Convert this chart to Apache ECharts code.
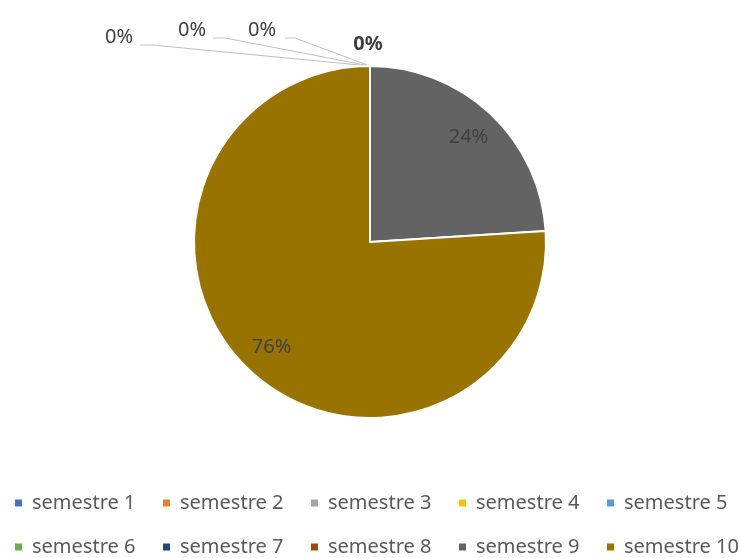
<!DOCTYPE html>
<html>
<head>
<meta charset="utf-8">
<script src="https://cdn.jsdelivr.net/npm/echarts@6/dist/echarts.min.js"></script>
<style>
  html, body { margin: 0; padding: 0; background: #fff; }
  #chart { width: 741px; height: 558px; }
</style>
</head>
<body>
<div id="chart"></div>
<script>
// Share of students per semester
const semesters = ['semestre 1', 'semestre 2', 'semestre 3', 'semestre 4', 'semestre 5',
                   'semestre 6', 'semestre 7', 'semestre 8', 'semestre 9', 'semestre 10'];
const shares = [0, 0, 0, 0, 0, 0, 0, 0, 24, 76];
const colors = ['#4472C4', '#ED7D31', '#A5A5A5', '#FFC000', '#5B9BD5',
                '#70AD47', '#264478', '#9E480E', '#636363', '#997300'];

const FONT = 'Noto Sans';
const CX = 370, CY = 242, R = 176;

// Where the labels of the empty slices sit (centre of text, end of leader line).
// Slices 4-8 share one stacked label right above the pie.
const zeroLabelSpots = [
  { x: 119, y: 37, line: [[152, 45], [140, 45]], show: true },
  { x: 192, y: 30, line: [[225, 38], [213, 38]], show: true },
  { x: 262, y: 30, line: [[295, 38], [285, 38]], show: true },
  { x: 368, y: 44, line: null, show: false },
  { x: 368, y: 44, line: null, show: false },
  { x: 368, y: 44, line: null, show: false },
  { x: 368, y: 44, line: null, show: false },
  { x: 368, y: 44, line: null, show: true, bold: true }
];

const mainData = semesters.map((name, i) => {
  const spot = zeroLabelSpots[i];
  const showLabel = shares[i] === 0 && !!spot && spot.show;
  return {
    name: name,
    value: shares[i],
    itemStyle: { color: colors[i] },
    label: { show: showLabel, fontWeight: spot && spot.bold ? 'bold' : 'normal' },
    labelLine: { show: showLabel && !!spot.line }
  };
});

// Transparent ring carrying the inner percentage labels further out
const ringData = semesters.map((name, i) => ({
  name: name,
  value: shares[i],
  label: { show: shares[i] !== 0 }
}));

const chart = echarts.init(document.getElementById('chart'), null, { renderer: 'canvas' });

// Legend laid out as a 5-column grid, one vertical legend per column
const colX = [13, 161, 309, 457, 605];
const legends = colX.map((x, c) => ({
  orient: 'vertical',
  left: x,
  top: 492,
  height: 66,
  padding: 0,
  itemWidth: 9,
  itemHeight: 9,
  itemGap: 22,
  icon: 'rect',
  selectedMode: false,
  data: [semesters[c], semesters[c + 5]],
  textStyle: {
    fontFamily: FONT,
    fontSize: 20,
    lineHeight: 22,
    color: '#595959',
    padding: [0, 0, 0, 4]
  }
}));

chart.setOption({
  animation: false,
  backgroundColor: '#ffffff',
  color: colors,
  legend: legends,
  series: [
    {
      type: 'pie',
      name: 'main',
      center: [CX, CY],
      radius: [0, R],
      startAngle: 90,
      clockwise: true,
      percentPrecision: 0,
      avoidLabelOverlap: false,
      itemStyle: { borderColor: '#ffffff', borderWidth: 2 },
      label: {
        position: 'outside',
        formatter: '{d}%',
        fontFamily: FONT,
        fontSize: 20,
        color: '#404040'
      },
      labelLine: {
        lineStyle: { color: '#BFBFBF', width: 1 }
      },
      labelLayout: function (params) {
        const spot = zeroLabelSpots[params.dataIndex];
        if (!spot) return {};
        const start = params.labelLinePoints ? params.labelLinePoints[0] : [CX, CY - R];
        const layout = { x: spot.x, y: spot.y, align: 'center', verticalAlign: 'middle', hideOverlap: false };
        if (spot.line) {
          layout.labelLinePoints = [start, spot.line[0], spot.line[1]];
        }
        return layout;
      },
      emphasis: { disabled: true },
      data: mainData
    },
    {
      type: 'pie',
      name: 'labels',
      center: [CX, CY],
      radius: [R * 0.6, R],
      startAngle: 90,
      clockwise: true,
      percentPrecision: 0,
      silent: true,
      itemStyle: { color: 'rgba(0,0,0,0)', borderWidth: 0 },
      label: {
        position: 'inside',
        formatter: '{d}%',
        fontFamily: FONT,
        fontSize: 20,
        color: '#404040'
      },
      labelLine: { show: false },
      emphasis: { disabled: true },
      data: ringData
    }
  ]
});
</script>
</body>
</html>
